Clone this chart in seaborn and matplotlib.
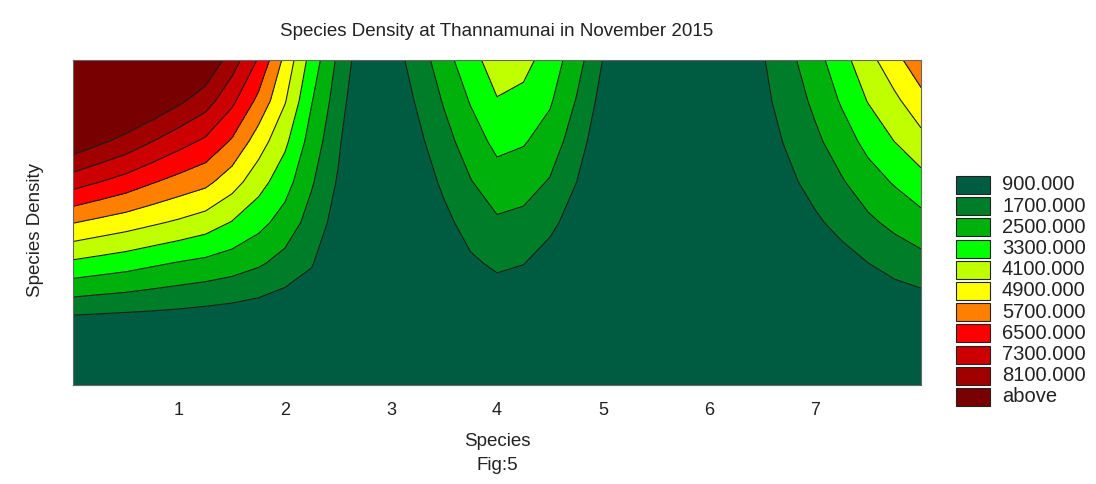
import numpy as np
import matplotlib
matplotlib.use("Agg")
import matplotlib.pyplot as plt
from matplotlib.patches import Rectangle
import seaborn as sns

# grid nodes (species along x, relative density position along y)
species_x = [0, 0.25, 0.5, 0.75, 1, 1.25, 1.5, 1.75, 2, 2.25, 2.5, 2.75, 3, 3.25, 3.5, 3.75,
             4, 4.25, 4.5, 4.75, 5, 5.25, 5.5, 5.75, 6, 6.25, 6.5, 6.75, 7, 7.25, 7.5, 7.75, 8]
density_y = [0, 0.125, 0.25, 0.375, 0.5, 0.625, 0.75, 0.875, 1.0]

row_y0 = [-2000, -1900, -1800, -1700, -1500, -1400, -1200, -1100, -900, -700, -600, -500, -600, -500, -500, -300,
          -400, -400, -400, -400, -400, -400, -400, -400, -400, -350, -200, -200, -200, -150, -150, -150, -200]
row_y1 = [-400, -400, -400, -350, -300, -300, -300, -300, -400, -200, -200, -400, -500, -400, -300, 0,
          0, -100, -150, -200, -300, -300, -300, -300, -300, -300, -100, -100, -100, 0, 0, -50, -100]
row_y2 = [1410, 1327, 1255, 1167, 1076, 980, 880, 743, 550, 520, 95, -350, -400, -300, 0, 350,
          478, 367, 200, 0, -250, -200, -250, -250, -250, -200, 0, 50, 100, 250, 300, 459, 574]
row_y3 = [3155, 2991, 2833, 2629, 2448, 2305, 2100, 1814, 1422, 951, 337, -300, -300, -100, 330, 777,
          1033, 922, 556, 200, -200, -150, -200, -200, -200, -150, 150, 250, 400, 624, 895, 1186, 1426]
row_y4 = [4932, 4690, 4470, 4219, 3977, 3700, 3256, 2755, 2169, 1379, 580, -300, -200, 150, 693, 1217,
          1589, 1478, 1095, 525, -100, -100, -150, -150, -150, -100, 300, 500, 780, 1124, 1544, 1899, 2211]
row_y5 = [6864, 6510, 6167, 5760, 5414, 5113, 4450, 3620, 2825, 1793, 822, -300, -100, 430, 1053, 1658,
          2157, 2028, 1635, 905, 100, 0, -100, -100, -100, 0, 450, 750, 1155, 1624, 2147, 2575, 3013]
row_y6 = [8713, 8254, 7833, 7310, 6808, 6359, 5611, 4500, 3471, 2169, 1065, -300, 100, 710, 1412, 2105,
          2719, 2571, 2140, 1277, 350, 100, 0, -50, 0, 100, 580, 998, 1529, 2112, 2742, 3310, 3838]
row_y7 = [10000, 9600, 9250, 8820, 8265, 7673, 6688, 5500, 4162, 2551, 1307, 50, 300, 990, 1775, 2560,
          3265, 3092, 2598, 1655, 600, 300, 100, 0, 50, 150, 700, 1242, 1871, 2585, 3339, 3925, 4635]
row_y8 = [11000, 10750, 10500, 10000, 9500, 8850, 7711, 6420, 4682, 2980, 1550, 300, 500, 1269, 2151, 3062,
          3634, 3551, 2948, 2037, 880, 450, 200, 100, 100, 250, 820, 1487, 2186, 3009, 3823, 4633, 5450]

levels_cut = [900, 1700, 2500, 3300, 4100, 4900, 5700, 6500, 7300, 8100]
band_colors = ["#005c40", "#007d28", "#00b10c", "#00ff00", "#c0ff00", "#ffff00",
               "#ff8000", "#ff0000", "#cc0000", "#a00000", "#780000"]
legend_labels = [f"{v:.3f}" for v in levels_cut] + ["above"]
tick_vals = [1, 2, 3, 4, 5, 6, 7]

sns.set_theme(style="white")
plt.rcParams['font.family'] = ['Liberation Sans', 'DejaVu Sans']

W, H = 1096, 484
fig = plt.figure(figsize=(W / 100, H / 100), dpi=100)
fig.patch.set_facecolor("white")

ax = fig.add_axes([73 / W, 1 - 385 / H, 848 / W, 325 / H])
Z = np.array([row_y0, row_y1, row_y2, row_y3, row_y4, row_y5, row_y6, row_y7, row_y8])
bounds = [Z.min() - 1] + levels_cut + [Z.max() + 1]
ax.contourf(species_x, density_y, Z, levels=bounds, colors=band_colors)
ax.contour(species_x, density_y, Z, levels=levels_cut, colors="#1c1c1c", linewidths=0.8)

ax.set_xlim(0, 8)
ax.set_ylim(0, 1)
ax.set_xticks(tick_vals)
ax.set_xticklabels([str(t) for t in tick_vals])
ax.set_yticks([])
ax.tick_params(axis="x", direction="in", length=3, width=0.8, color="#333333",
               labelsize=13, labelcolor="#222222", pad=12, bottom=True)
for sp in ax.spines.values():
    sp.set_color("#666666")
    sp.set_linewidth(0.8)

ax.set_title("Species Density at Thannamunai in November 2015", fontsize=13.5,
             color="#222222", pad=17)
ax.set_xlabel("Species", fontsize=13.5, color="#222222", labelpad=10)
ax.set_ylabel("Species Density", fontsize=13.5, color="#222222", va="center")
ax.yaxis.set_label_coords(-(73 - 35) / 848, (385 - 230) / 325)
fig.text(497 / W, 1 - 466 / H, "Fig:5", fontsize=13.5, color="#222222", ha="center", va="center")

# legend swatches on the right
for i, (col, lab) in enumerate(zip(band_colors, legend_labels)):
    yc = 185 + 21.2 * i
    fig.add_artist(Rectangle((956 / W, 1 - (yc + 9) / H), 34 / W, 18 / H,
                             transform=fig.transFigure, facecolor=col,
                             edgecolor="#222222", linewidth=0.8))
    fig.text(1002 / W, 1 - yc / H, lab, fontsize=14.5, color="#222222", va="center", ha="left")

fig.savefig("out.png", dpi=100)
